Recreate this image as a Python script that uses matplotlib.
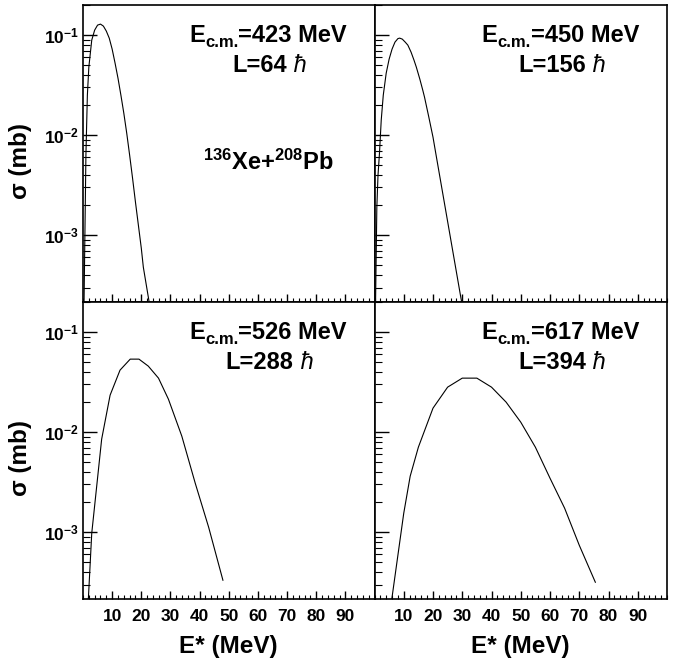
import numpy as np
import matplotlib
matplotlib.use("Agg")
import matplotlib.pyplot as plt
from matplotlib.transforms import offset_copy
from matplotlib.ticker import FixedLocator, MultipleLocator, LogLocator, NullFormatter, FixedFormatter

plt.rcParams['font.family'] = ['Liberation Sans', 'DejaVu Sans']
plt.rcParams['mathtext.fontset'] = 'custom'
plt.rcParams['mathtext.rm'] = 'Liberation Sans'
plt.rcParams['mathtext.bf'] = 'Liberation Sans:bold'
plt.rcParams['mathtext.it'] = 'Liberation Sans:italic'

# ---- data (log10 of sigma in mb vs E* in MeV) ----
x_423 = [0.3, 1, 1.5, 2, 3, 4, 5, 6, 7, 8, 9, 10, 11, 12, 13, 14, 15, 16, 17, 18, 19, 20, 20.7, 22.7, 23.5]
lg_423 = [-3.8, -2.2, -1.6, -1.32, -1.05, -0.95, -0.9, -0.89, -0.91, -0.96, -1.03, -1.14, -1.28, -1.43,
          -1.6, -1.78, -1.98, -2.2, -2.43, -2.67, -2.9, -3.13, -3.32, -3.67, -3.8]

x_450 = [0.3, 0.8, 1.2, 1.7, 2.3, 3, 4, 5, 6, 7, 8, 8.6, 9.5, 10.5, 11.4, 12.5, 13.5, 14.3, 15.5,
         16.5, 17.1, 18.5, 20, 21, 29.5, 30.3]
lg_450 = [-3.8, -2.72, -2.4, -2.18, -1.85, -1.6, -1.38, -1.24, -1.14, -1.07, -1.035, -1.03, -1.04,
          -1.07, -1.10, -1.17, -1.25, -1.32, -1.44, -1.55, -1.62, -1.81, -2.02, -2.19, -3.62, -3.75]

x_526 = [1.6, 3.0, 4.7, 6.4, 9.3, 12.7, 16.2, 19.2, 22.4, 25.9, 29.3, 33.9, 38.5, 43.1, 48.0]
lg_526 = [-3.8, -3.01, -2.54, -2.07, -1.63, -1.38, -1.27, -1.27, -1.34, -1.46, -1.67, -2.04, -2.51,
          -2.95, -3.48]

x_617 = [5, 10, 12.2, 15, 20, 25, 30, 35, 40, 45, 50, 55, 60, 65, 70, 75.5]
lg_617 = [-3.86, -2.81, -2.44, -2.15, -1.76, -1.55, -1.46, -1.46, -1.55, -1.70, -1.90, -2.15, -2.46,
          -2.76, -3.13, -3.50]

energies = ["423", "450", "526", "617"]
momenta = ["64", "156", "288", "394"]
xs = [x_423, x_450, x_526, x_617]
lgs = [lg_423, lg_450, lg_526, lg_617]

xticks = [10, 20, 30, 40, 50, 60, 70, 80, 90]
yticks = [1e-3, 1e-2, 1e-1]
ytick_labels = [r"$\mathbf{10^{-3}}$", r"$\mathbf{10^{-2}}$", r"$\mathbf{10^{-1}}$"]

W, H = 685, 663
fig = plt.figure(figsize=(W / 100, H / 100), dpi=100)
renderer = fig.canvas.get_renderer()


def rich_text(ax, x, y, pieces):
    """pieces: list of (string, fontsize, dy_points, weight, style); centred at (x, y)."""
    widths = []
    for s, fs, dy, wt, st in pieces:
        t = ax.text(0, 0, s, fontsize=fs, fontweight=wt, fontstyle=st)
        widths.append(t.get_window_extent(renderer).width)
        t.remove()
    off = -sum(widths) / 2.0
    for (s, fs, dy, wt, st), w in zip(pieces, widths):
        tr = offset_copy(ax.transAxes, fig=fig, x=off * 72.0 / fig.dpi, y=dy, units='points')
        ax.text(x, y, s, transform=tr, ha='left', va='baseline', fontsize=fs,
                fontweight=wt, fontstyle=st)
        off += w


lefts = [83, 374.5]
widths_px = [291.5, 292.5]
tops = [5, 302]
ph = 297

axes = []
for r in range(2):
    for c in range(2):
        ax = fig.add_axes([lefts[c] / W, 1 - (tops[r] + ph) / H, widths_px[c] / W, ph / H])
        axes.append((ax, r, c))

for i, (ax, r, c) in enumerate(axes):
    ax.plot(xs[i], 10 ** np.array(lgs[i]), color='black', lw=0.8)
    ax.set_yscale('log')
    ax.set_xlim(0, 100)
    ax.set_ylim(2.15e-4, 0.2)
    for s in ax.spines.values():
        s.set_linewidth(1.2)
    ax.xaxis.set_major_locator(FixedLocator(xticks))
    ax.xaxis.set_minor_locator(MultipleLocator(2))
    ax.yaxis.set_major_locator(FixedLocator(yticks))
    ax.yaxis.set_minor_locator(LogLocator(base=10, subs=np.arange(2, 10)))
    ax.yaxis.set_minor_formatter(NullFormatter())
    ax.tick_params(axis='x', which='major', direction='in', length=6, width=1, top=False, pad=7)
    ax.tick_params(axis='x', which='minor', direction='in', length=3, width=0.8, top=False)
    ax.tick_params(axis='y', which='major', direction='in', length=10, width=1, right=False, pad=3)
    ax.tick_params(axis='y', which='minor', direction='in', length=5, width=0.8, right=False)
    if r == 1:
        ax.set_xticklabels([str(t) for t in xticks], fontsize=12.5, fontweight='bold')
        ax.set_xlabel("E* (MeV)", fontsize=17.5, fontweight='bold', labelpad=8)
    else:
        ax.set_xticklabels([])
    if c == 0:
        ax.yaxis.set_major_formatter(FixedFormatter(ytick_labels))
        for t in ax.get_yticklabels():
            t.set_fontsize(12.5)
        ax.set_ylabel("σ (mb)", fontsize=17.5, fontweight='bold')
        ax.yaxis.set_label_coords(-0.175, 0.475)
    else:
        ax.set_yticklabels([])

    rich_text(ax, 0.635, 0.877, [("E", 17, 0, 'bold', 'normal'),
                                 ("c.m.", 12, -4, 'bold', 'normal'),
                                 ("=" + energies[i] + " MeV", 17, 0, 'bold', 'normal')])
    rich_text(ax, 0.64, 0.776, [("L=" + momenta[i], 17, 0, 'bold', 'normal'),
                                (" ħ", 17, 0, 'normal', 'italic')])
    if i == 0:
        ax.text(0.635, 0.445, r"$^{\mathbf{136}}$Xe+$^{\mathbf{208}}$Pb", transform=ax.transAxes,
                ha='center', va='baseline', fontsize=17, fontweight='bold')

fig.savefig("out.png", dpi=100)
